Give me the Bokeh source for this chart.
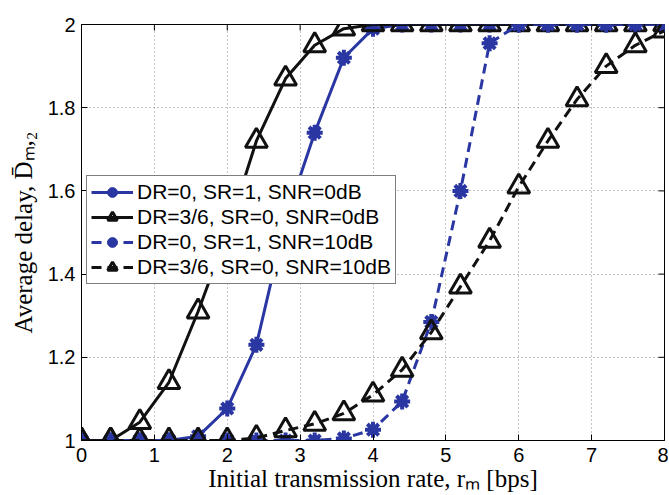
import math
from bokeh.plotting import figure
from bokeh.models import Range1d, FixedTicker, Legend, LegendItem
from bokeh.embed import file_html
from bokeh.resources import INLINE

# ---- data ----
rate = [0, 0.4, 0.8, 1.2, 1.6, 2.0, 2.4, 2.8, 3.2, 3.6, 4.0,
        4.4, 4.8, 5.2, 5.6, 6.0, 6.4, 6.8, 7.2, 7.6, 8.0]
dr0_sr1_snr0 = [1, 1, 1, 1, 1.01, 1.077, 1.23, 1.53, 1.74, 1.92, 1.99,
                2, 2, 2, 2, 2, 2, 2, 2, 2, 2]
dr36_sr0_snr0 = [1, 1, 1.044, 1.14, 1.31, 1.5, 1.72, 1.87, 1.95, 1.99, 2,
                 2, 2, 2, 2, 2, 2, 2, 2, 2, 2]
dr0_sr1_snr10 = [1, 1, 1, 1, 1, 1, 1, 1, 1, 1.005, 1.026,
                 1.094, 1.285, 1.60, 1.955, 2, 2, 2, 2, 2, 2]
dr36_sr0_snr10 = [1, 1, 1, 1, 1, 1, 1.006, 1.024, 1.04, 1.065, 1.11,
                  1.17, 1.26, 1.37, 1.48, 1.61, 1.72, 1.82, 1.90, 1.95, 1.985]
labels = ["DR=0, SR=1, SNR=0dB", "DR=3/6, SR=0, SNR=0dB",
          "DR=0, SR=1, SNR=10dB", "DR=3/6, SR=0, SNR=10dB"]
x_ticks = [0, 1, 2, 3, 4, 5, 6, 7, 8]
y_ticks = [1, 1.2, 1.4, 1.6, 1.8, 2]
x_min, x_max = 0, 8
y_min, y_max = 1, 2

BLUE = "#2A36A2"
BLACK = "#111111"

p = figure(width=668, height=494, output_backend="svg", toolbar_location=None,
           x_range=Range1d(x_min, x_max), y_range=Range1d(y_min, y_max),
           min_border_left=81, min_border_top=24, min_border_bottom=50,
           min_border_right=4)
p.background_fill_color = "white"
p.border_fill_color = "white"
p.outline_line_color = "black"
p.outline_line_width = 1

TICK_FONT = "Liberation Sans"
LABEL_FONT = "Liberation Serif"

for ax in (p.xaxis[0], p.yaxis[0]):
    ax.major_tick_in = 6
    ax.major_tick_out = 0
    ax.minor_tick_line_color = None
    ax.axis_line_color = "black"
    ax.major_tick_line_color = "black"
    ax.major_label_text_font = TICK_FONT
    ax.major_label_text_font_size = "20px"
    ax.major_label_text_color = "black"
    ax.axis_label_text_font = LABEL_FONT
    ax.axis_label_text_font_size = "25px"
    ax.axis_label_text_font_style = "normal"
    ax.axis_label_text_color = "black"
p.xaxis[0].ticker = FixedTicker(ticks=x_ticks)
p.yaxis[0].ticker = FixedTicker(ticks=y_ticks)
p.yaxis[0].major_label_overrides = {1: "1", 2: "2"}
p.xaxis[0].major_label_standoff = 7
p.yaxis[0].major_label_standoff = 6
p.xaxis[0].axis_label = "Initial transmission rate, r\u2098 [bps]"
p.yaxis[0].axis_label = "Average delay, D\u0304\u2098,\u2082"
p.xaxis[0].axis_label_standoff = 0
p.yaxis[0].axis_label_standoff = 8

p.grid.grid_line_color = "#8a8a8a"
p.grid.grid_line_dash = "1 3"
p.grid.grid_line_width = 1
p.xgrid.ticker = FixedTicker(ticks=x_ticks)
p.ygrid.ticker = FixedTicker(ticks=y_ticks)

# mirrored inward ticks on the right and top edges (half of each dash is clipped by the frame)
p.scatter([x_max] * len(y_ticks), y_ticks, marker="dash", size=12,
          line_color="black", line_width=1)
p.scatter(x_ticks, [y_max] * len(x_ticks), marker="dash", size=12,
          angle=math.pi / 2, line_color="black", line_width=1)

items = []

def star_series(ys, dash, label):
    r1 = p.line(rate, ys, line_color=BLUE, line_width=3, line_dash=dash)
    r2 = p.scatter(rate, ys, marker="circle", size=10, fill_color=BLUE, line_color=BLUE)
    r3 = p.scatter(rate, ys, marker="asterisk", size=16, line_color=BLUE, line_width=4)
    items.append(LegendItem(label=label, renderers=[r1, r2, r3]))

def tri_series(ys, dash, label):
    r1 = p.line(rate, ys, line_color=BLACK, line_width=3, line_dash=dash)
    r2 = p.scatter(rate, ys, marker="triangle", size=22, fill_color=None,
                   line_color=BLACK, line_width=3)
    items.append(LegendItem(label=label, renderers=[r1, r2]))

star_series(dr0_sr1_snr0, "solid", labels[0])
tri_series(dr36_sr0_snr0, "solid", labels[1])
star_series(dr0_sr1_snr10, "10 6", labels[2])
tri_series(dr36_sr0_snr10, "10 6", labels[3])

legend = Legend(items=items, location=(5, 156))
legend.border_line_color = "black"
legend.border_line_width = 1
legend.background_fill_color = "white"
legend.background_fill_alpha = 1
legend.label_text_font = TICK_FONT
legend.label_text_font_size = "21px"
legend.label_text_color = "black"
legend.glyph_width = 42
legend.glyph_height = 24
legend.label_height = 24
legend.label_standoff = 4
legend.spacing = 1
legend.padding = 4
legend.margin = 0
p.add_layout(legend, "center")

open("out.html", "w").write(file_html(p, INLINE))
